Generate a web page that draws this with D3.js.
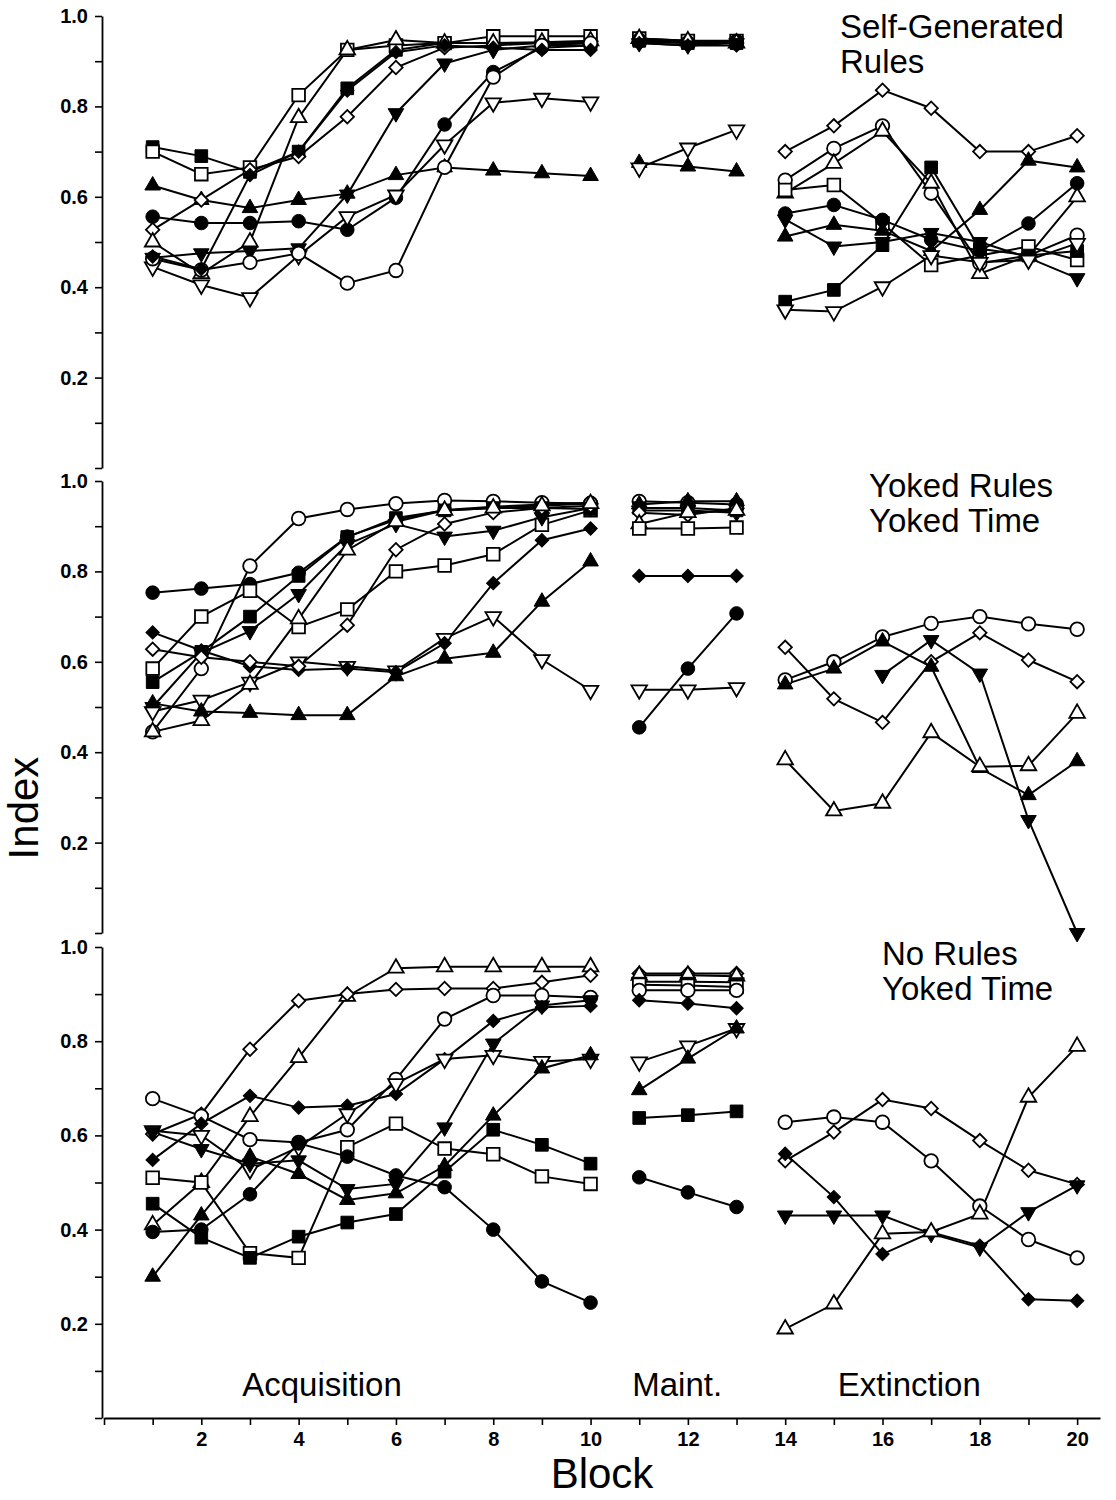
<!DOCTYPE html>
<html>
<head>
<meta charset="utf-8">
<script src="https://cdn.jsdelivr.net/npm/d3@7"></script>
<style>
  body { margin: 0; background: #fff; }
  svg { display: block; font-family: "Liberation Sans", Arial, Helvetica, sans-serif; }
</style>
</head>
<body>
<svg id="chart" width="1116" height="1500"></svg>
<script>
// blocks of each phase
const acqBlocks = d3.range(1, 11);
const maintBlocks = [11, 12, 13];
const extBlocks = d3.range(14, 21);

// marker codes: f = filled, o = open; c circle, s square, u triangle up, d triangle down, m diamond

// Self-Generated Rules
const selfAcq = [
  ["fs", [0.71, 0.69, 0.655, 0.70, 0.84, 0.925, 0.94, 0.94, 0.94, 0.94]],
  ["os", [0.70, 0.65, 0.665, 0.825, 0.925, 0.935, 0.94, 0.955, 0.955, 0.955]],
  ["fu", [0.625, 0.593, 0.575, 0.593, 0.607, 0.648, 0.665, 0.658, 0.652, 0.646]],
  ["fc", [0.556, 0.542, 0.542, 0.546, 0.527, 0.598, 0.76, 0.876, 0.93, 0.935]],
  ["om", [0.527, 0.593, 0.66, 0.689, 0.777, 0.886, 0.93, 0.935, 0.94, 0.94]],
  ["ou", [0.50, 0.43, 0.50, 0.775, 0.925, 0.947, 0.94, 0.94, 0.942, 0.945]],
  ["fd", [0.465, 0.475, 0.48, 0.486, 0.605, 0.785, 0.895, 0.925, 0.935, 0.935]],
  ["od", [0.445, 0.405, 0.377, 0.47, 0.556, 0.604, 0.715, 0.808, 0.818, 0.81]],
  ["oc", [0.463, 0.438, 0.455, 0.475, 0.409, 0.437, 0.665, 0.865, 0.935, 0.94]],
  ["fm", [0.468, 0.44, 0.648, 0.70, 0.835, 0.92, 0.935, 0.93, 0.925, 0.925]]
];
const selfMaint = [
  ["fs", [0.945, 0.94, 0.94]],
  ["os", [0.95, 0.945, 0.945]],
  ["fc", [0.948, 0.942, 0.945]],
  ["oc", [0.945, 0.94, 0.94]],
  ["om", [0.94, 0.942, 0.94]],
  ["ou", [0.95, 0.945, 0.94]],
  ["fd", [0.94, 0.935, 0.94]],
  ["fm", [0.94, 0.935, 0.935]],
  ["fu", [0.675, 0.667, 0.656]],
  ["od", [0.664, 0.708, 0.748]]
];
const selfExt = [
  ["om", [0.70, 0.757, 0.836, 0.796, 0.70, 0.70, 0.735]],
  ["oc", [0.637, 0.707, 0.757, 0.608, 0.453, 0.47, 0.515]],
  ["ou", [0.608, 0.674, 0.745, 0.63, 0.43, 0.47, 0.60]],
  ["os", [0.615, 0.626, 0.541, 0.449, 0.47, 0.49, 0.46]],
  ["fc", [0.563, 0.582, 0.549, 0.505, 0.48, 0.541, 0.63]],
  ["fd", [0.55, 0.49, 0.50, 0.52, 0.50, 0.465, 0.42]],
  ["fu", [0.512, 0.538, 0.525, 0.48, 0.571, 0.68, 0.665]],
  ["fs", [0.368, 0.394, 0.493, 0.665, 0.485, 0.47, 0.48]],
  ["od", [0.35, 0.346, 0.401, 0.47, 0.455, 0.46, 0.497]]
];

// Yoked Rules, Yoked Time
const yokedAcq = [
  ["fc", [0.753, 0.762, 0.772, 0.797, 0.877, 0.914, 0.936, 0.943, 0.948, 0.952]],
  ["oc", [0.445, 0.585, 0.812, 0.917, 0.937, 0.95, 0.957, 0.955, 0.952, 0.95]],
  ["os", [0.585, 0.70, 0.757, 0.677, 0.716, 0.80, 0.813, 0.838, 0.903, 0.935]],
  ["fs", [0.555, 0.622, 0.70, 0.79, 0.876, 0.918, 0.935, 0.94, 0.94, 0.938]],
  ["fd", [0.50, 0.62, 0.668, 0.75, 0.86, 0.905, 0.877, 0.89, 0.92, 0.94]],
  ["od", [0.49, 0.515, 0.555, 0.60, 0.59, 0.58, 0.652, 0.70, 0.605, 0.537]],
  ["fm", [0.665, 0.625, 0.59, 0.582, 0.585, 0.577, 0.641, 0.774, 0.869, 0.895]],
  ["om", [0.628, 0.61, 0.60, 0.59, 0.681, 0.848, 0.905, 0.93, 0.94, 0.945]],
  ["ou", [0.445, 0.47, 0.55, 0.695, 0.847, 0.91, 0.935, 0.94, 0.945, 0.95]],
  ["fu", [0.508, 0.49, 0.487, 0.482, 0.482, 0.568, 0.607, 0.62, 0.733, 0.822]]
];
const yokedMaint = [
  ["oc", [0.955, 0.952, 0.948]],
  ["fu", [0.948, 0.955, 0.955]],
  ["fs", [0.94, 0.94, 0.935]],
  ["fd", [0.935, 0.935, 0.93]],
  ["om", [0.93, 0.925, 0.94]],
  ["ou", [0.905, 0.93, 0.935]],
  ["os", [0.895, 0.895, 0.897]],
  ["fm", [0.79, 0.79, 0.79]],
  ["fc", [0.455, 0.585, 0.707]],
  ["od", [0.538, 0.538, 0.543]]
];
const yokedExt = [
  ["oc", [0.56, 0.60, 0.655, 0.685, 0.70, 0.684, 0.672]],
  ["om", [0.632, 0.518, 0.466, 0.60, 0.664, 0.604, 0.556]],
  ["fu", [0.55, 0.585, 0.645, 0.589, 0.365, 0.305, 0.38]],
  ["fd", [null, null, 0.571, 0.648, 0.574, 0.25, 0.0]],
  ["ou", [0.383, 0.27, 0.287, 0.443, 0.368, 0.37, 0.486]]
];

// No Rules, Yoked Time
const noRulesAcq = [
  ["ou", [0.41, 0.50, 0.64, 0.765, 0.895, 0.955, 0.958, 0.958, 0.958, 0.958]],
  ["om", [0.603, 0.645, 0.783, 0.886, 0.90, 0.91, 0.912, 0.912, 0.925, 0.94]],
  ["oc", [0.678, 0.641, 0.591, 0.585, 0.612, 0.719, 0.847, 0.897, 0.897, 0.893]],
  ["fm", [0.548, 0.625, 0.684, 0.659, 0.663, 0.688, 0.762, 0.843, 0.872, 0.875]],
  ["od", [0.61, 0.60, 0.527, 0.575, 0.646, 0.71, 0.762, 0.77, 0.757, 0.762]],
  ["fd", [0.607, 0.571, 0.54, 0.547, 0.486, 0.497, 0.617, 0.795, 0.876, 0.887]],
  ["os", [0.51, 0.50, 0.35, 0.34, 0.575, 0.625, 0.572, 0.56, 0.513, 0.497]],
  ["fs", [0.455, 0.383, 0.34, 0.385, 0.415, 0.433, 0.523, 0.612, 0.58, 0.54]],
  ["fc", [0.395, 0.40, 0.475, 0.583, 0.555, 0.515, 0.49, 0.40, 0.29, 0.245]],
  ["fu", [0.30, 0.43, 0.555, 0.518, 0.463, 0.477, 0.535, 0.642, 0.742, 0.77]]
];
const noRulesMaint = [
  ["om", [0.944, 0.944, 0.944]],
  ["ou", [0.94, 0.94, 0.938]],
  ["fd", [0.926, 0.926, 0.925]],
  ["os", [0.92, 0.918, 0.915]],
  ["oc", [0.908, 0.908, 0.908]],
  ["fm", [0.887, 0.88, 0.87]],
  ["od", [0.756, 0.79, 0.827]],
  ["fu", [0.696, 0.763, 0.827]],
  ["fs", [0.637, 0.643, 0.651]],
  ["fc", [0.511, 0.479, 0.448]]
];
const noRulesExt = [
  ["oc", [0.628, 0.639, 0.628, 0.546, 0.45, 0.379, 0.34]],
  ["om", [0.546, 0.607, 0.676, 0.657, 0.589, 0.526, 0.496]],
  ["fm", [0.561, 0.469, 0.348, 0.394, 0.366, 0.252, 0.249]],
  ["fd", [0.43, 0.43, 0.43, 0.391, 0.362, 0.437, 0.494]],
  ["ou", [0.189, 0.242, 0.391, 0.395, 0.433, 0.681, 0.789]]
];

const yTicks = d3.range(0, 11).map(i => i / 10);
const xTicks = d3.range(0, 21);
const phaseLabels = [["Acquisition", 4.48], ["Maint.", 11.78], ["Extinction", 16.55]];

const panels = [
  {title: ["Self-Generated", "Rules"], acq: selfAcq, maint: selfMaint, ext: selfExt,
   top: 16, bottom: 468, tx: 840, ty: 38},
  {title: ["Yoked Rules", "Yoked Time"], acq: yokedAcq, maint: yokedMaint, ext: yokedExt,
   top: 481, bottom: 933, tx: 869, ty: 497},
  {title: ["No Rules", "Yoked Time"], acq: noRulesAcq, maint: noRulesMaint, ext: noRulesExt,
   top: 947, bottom: 1418, tx: 882, ty: 965}
];

const symbols = {
  fc: {type: d3.symbolCircle, size: 145, filled: true, rot: 0},
  oc: {type: d3.symbolCircle, size: 145, filled: false, rot: 0},
  fs: {type: d3.symbolSquare, size: 160, filled: true, rot: 0},
  os: {type: d3.symbolSquare, size: 160, filled: false, rot: 0},
  fu: {type: d3.symbolTriangle, size: 105, filled: true, rot: 0},
  ou: {type: d3.symbolTriangle, size: 105, filled: false, rot: 0},
  fd: {type: d3.symbolTriangle, size: 105, filled: true, rot: 180},
  od: {type: d3.symbolTriangle, size: 105, filled: false, rot: 180},
  fm: {type: d3.symbolSquare, size: 90, filled: true, rot: 45},
  om: {type: d3.symbolSquare, size: 90, filled: false, rot: 45}
};

const svg = d3.select("#chart");
svg.append("rect").attr("width", 1116).attr("height", 1500).attr("fill", "#fff");

const axisX = 102;
const x = d3.scaleLinear().domain([0, 20.47]).range([104, 1100]);

panels.forEach(p => {
  let y = d3.scaleLinear().domain([0, 1]).range([p.bottom, p.top]);

  // y axis
  let ya = svg.append("g")
    .attr("transform", `translate(${axisX},0)`)
    .call(d3.axisLeft(y).tickValues(yTicks).tickSize(7).tickSizeOuter(0)
      .tickFormat(d => (d > 0 && Math.round(d * 10) % 2 === 0) ? d.toFixed(1) : ""));
  ya.select(".domain").attr("stroke-width", 1.8);
  ya.selectAll(".tick line").attr("stroke-width", 1.6);
  ya.selectAll("text")
    .attr("font-family", "'Liberation Sans', Arial, sans-serif")
    .attr("font-size", 20).attr("font-weight", "bold").attr("x", -14);

  // title
  svg.append("text")
    .attr("x", p.tx).attr("y", p.ty)
    .attr("font-size", 33)
    .selectAll("tspan")
    .data(p.title)
    .join("tspan")
    .attr("x", p.tx)
    .attr("dy", (d, i) => i === 0 ? 0 : 35)
    .text(d => d);

  let line = d3.line()
    .defined(d => d.v != null)
    .x(d => x(d.b))
    .y(d => y(d.v));

  let groups = [[p.acq, acqBlocks], [p.maint, maintBlocks], [p.ext, extBlocks]];
  let series = [];
  groups.forEach(([list, blocks]) => {
    list.forEach(([m, vals]) => {
      series.push({m, pts: vals.map((v, i) => ({b: blocks[i], v}))});
    });
  });

  let g = svg.append("g");
  g.selectAll("path.series")
    .data(series)
    .join("path")
    .attr("class", "series")
    .attr("fill", "none")
    .attr("stroke", "#000")
    .attr("stroke-width", 2)
    .attr("d", d => line(d.pts));

  let markers = [];
  series.forEach(s => s.pts.forEach(pt => { if (pt.v != null) markers.push({m: s.m, b: pt.b, v: pt.v}); }));

  g.selectAll("path.mark")
    .data(markers)
    .join("path")
    .attr("class", "mark")
    .attr("d", d => d3.symbol(symbols[d.m].type, symbols[d.m].size)())
    .attr("transform", d => `translate(${x(d.b)},${y(d.v)}) rotate(${symbols[d.m].rot})`)
    .attr("fill", d => symbols[d.m].filled ? "#000" : "#fff")
    .attr("stroke", "#000")
    .attr("stroke-width", d => symbols[d.m].filled ? 1 : 1.8);
});

// x axis
let xa = svg.append("g")
  .attr("transform", "translate(0,1418)")
  .call(d3.axisBottom(x).tickValues(xTicks).tickSize(7).tickSizeOuter(0)
    .tickFormat(d => (d > 0 && d % 2 === 0) ? d : ""));
xa.select(".domain").attr("stroke-width", 2);
xa.selectAll(".tick line").attr("stroke-width", 1.6);
xa.selectAll("text")
  .attr("font-family", "'Liberation Sans', Arial, sans-serif")
  .attr("font-size", 20).attr("font-weight", "bold").attr("y", 14);

// phase labels
svg.append("g")
  .selectAll("text")
  .data(phaseLabels)
  .join("text")
  .attr("x", d => x(d[1]))
  .attr("y", 1396)
  .attr("text-anchor", "middle")
  .attr("font-size", 33)
  .text(d => d[0]);

// axis titles
svg.append("text")
  .attr("transform", "translate(38,808) rotate(-90)")
  .attr("text-anchor", "middle")
  .attr("font-size", 42)
  .text("Index");

svg.append("text")
  .attr("x", 602).attr("y", 1488)
  .attr("text-anchor", "middle")
  .attr("font-size", 42)
  .text("Block");
</script>
</body>
</html>
